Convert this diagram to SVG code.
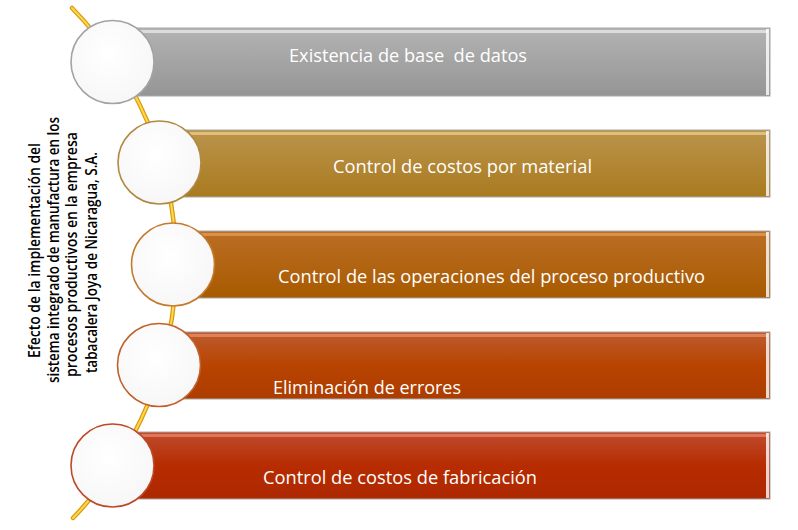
<svg xmlns="http://www.w3.org/2000/svg" width="798" height="530" viewBox="0 0 798 530">
<defs>
<linearGradient id="g1" x1="0" y1="0" x2="0" y2="1"><stop offset="0" stop-color="#b3b3b3"/><stop offset="1" stop-color="#959595"/></linearGradient>
<linearGradient id="g2" x1="0" y1="0" x2="0" y2="1"><stop offset="0" stop-color="#bb944c"/><stop offset="1" stop-color="#a97a1f"/></linearGradient>
<linearGradient id="g3" x1="0" y1="0" x2="0" y2="1"><stop offset="0" stop-color="#bb6e24"/><stop offset="1" stop-color="#a85a00"/></linearGradient>
<linearGradient id="g4" x1="0" y1="0" x2="0" y2="1"><stop offset="0" stop-color="#bd5c30"/><stop offset="0.5" stop-color="#b84400"/><stop offset="1" stop-color="#ad3c00"/></linearGradient>
<linearGradient id="g5" x1="0" y1="0" x2="0" y2="1"><stop offset="0" stop-color="#bf4c30"/><stop offset="0.5" stop-color="#b72c00"/><stop offset="1" stop-color="#ad2800"/></linearGradient>
<radialGradient id="cf" cx="0.45" cy="0.4" r="0.6"><stop offset="0" stop-color="#ffffff"/><stop offset="1" stop-color="#f7f7f7"/></radialGradient>
</defs>
<style>
.bar{stroke:#a8a8a8;stroke-width:1}
.hi{fill:#ffffff;opacity:0.55}
.edge{fill:#ffffff;opacity:0.8}
.circ{fill:url(#cf);stroke-width:1.6}
.lbl{font-family:"Open Sans","Noto Sans",sans-serif;font-size:19px;fill:#ffffff;white-space:pre}
.side{font-family:"Open Sans","Noto Sans",sans-serif;font-size:16px;font-weight:600;fill:#000000}
.arcO{fill:none;stroke:#d99a10;stroke-width:4.5;stroke-linecap:round}
.arcI{fill:none;stroke:#ffd84a;stroke-width:2;stroke-linecap:round}
</style>
<rect width="798" height="530" fill="#ffffff"/>
<g id="connectors">
<path class="arcO" d="M 72 8 A 366 366 0 0 1 73 518"/>
<path class="arcI" d="M 72 8 A 366 366 0 0 1 73 518"/>
</g>
<g id="node1">
<rect class="bar" x="112" y="28" width="658" height="68" fill="url(#g1)"/>
<rect class="hi" x="112" y="30" width="656" height="3"/>
<rect class="edge" x="766" y="29" width="3" height="66"/>
<circle class="circ" cx="112.5" cy="62" r="41.5" stroke="#a3a3a3"/>
<text class="lbl" x="289" y="62" textLength="238" lengthAdjust="spacingAndGlyphs" xml:space="preserve">Existencia de base  de datos</text>
</g>
<g id="node2">
<rect class="bar" x="159" y="130" width="611" height="67" fill="url(#g2)"/>
<rect class="hi" x="159" y="132" width="609" height="3" style="fill:#ffe6a0"/>
<rect class="edge" x="766" y="131" width="3" height="65"/>
<circle class="circ" cx="159.5" cy="162.5" r="41.5" stroke="#b08a40"/>
<text class="lbl" x="333" y="173" textLength="259" lengthAdjust="spacingAndGlyphs">Control de costos por material</text>
</g>
<g id="node3">
<rect class="bar" x="173" y="231" width="597" height="67" fill="url(#g3)"/>
<rect class="hi" x="173" y="233" width="595" height="3" style="fill:#f0b070"/>
<rect class="edge" x="766" y="232" width="3" height="65"/>
<circle class="circ" cx="173" cy="264.5" r="41.5" stroke="#c47a2e"/>
<text class="lbl" x="278" y="283" textLength="427" lengthAdjust="spacingAndGlyphs">Control de las operaciones del proceso productivo</text>
</g>
<g id="node4">
<rect class="bar" x="159" y="332" width="611" height="67" fill="url(#g4)"/>
<rect class="hi" x="159" y="334" width="609" height="3" style="fill:#ffa080"/>
<rect class="edge" x="766" y="333" width="3" height="65"/>
<circle class="circ" cx="159" cy="365" r="41.5" stroke="#c0602a"/>
<text class="lbl" x="273" y="394" textLength="188" lengthAdjust="spacingAndGlyphs">Eliminación de errores</text>
</g>
<g id="node5">
<rect class="bar" x="112" y="432" width="658" height="67" fill="url(#g5)"/>
<rect class="hi" x="112" y="434" width="656" height="3" style="fill:#ff9a80"/>
<rect class="edge" x="766" y="433" width="3" height="65"/>
<circle class="circ" cx="112.5" cy="465.5" r="41.5" stroke="#bb4a26"/>
<text class="lbl" x="263" y="484" textLength="274" lengthAdjust="spacingAndGlyphs">Control de costos de fabricación</text>
</g>
<g id="title">
<text class="side" transform="translate(40,358) rotate(-90)" textLength="215" lengthAdjust="spacingAndGlyphs">Efecto de la implementación del</text>
<text class="side" transform="translate(58.5,383) rotate(-90)" textLength="266" lengthAdjust="spacingAndGlyphs">sistema integrado de manufactura en los</text>
<text class="side" transform="translate(77.3,377) rotate(-90)" textLength="245" lengthAdjust="spacingAndGlyphs">procesos productivos en la empresa</text>
<text class="side" transform="translate(96.7,373) rotate(-90)" textLength="221" lengthAdjust="spacingAndGlyphs">tabacalera Joya de Nicaragua, S.A.</text>
</g>
</svg>
